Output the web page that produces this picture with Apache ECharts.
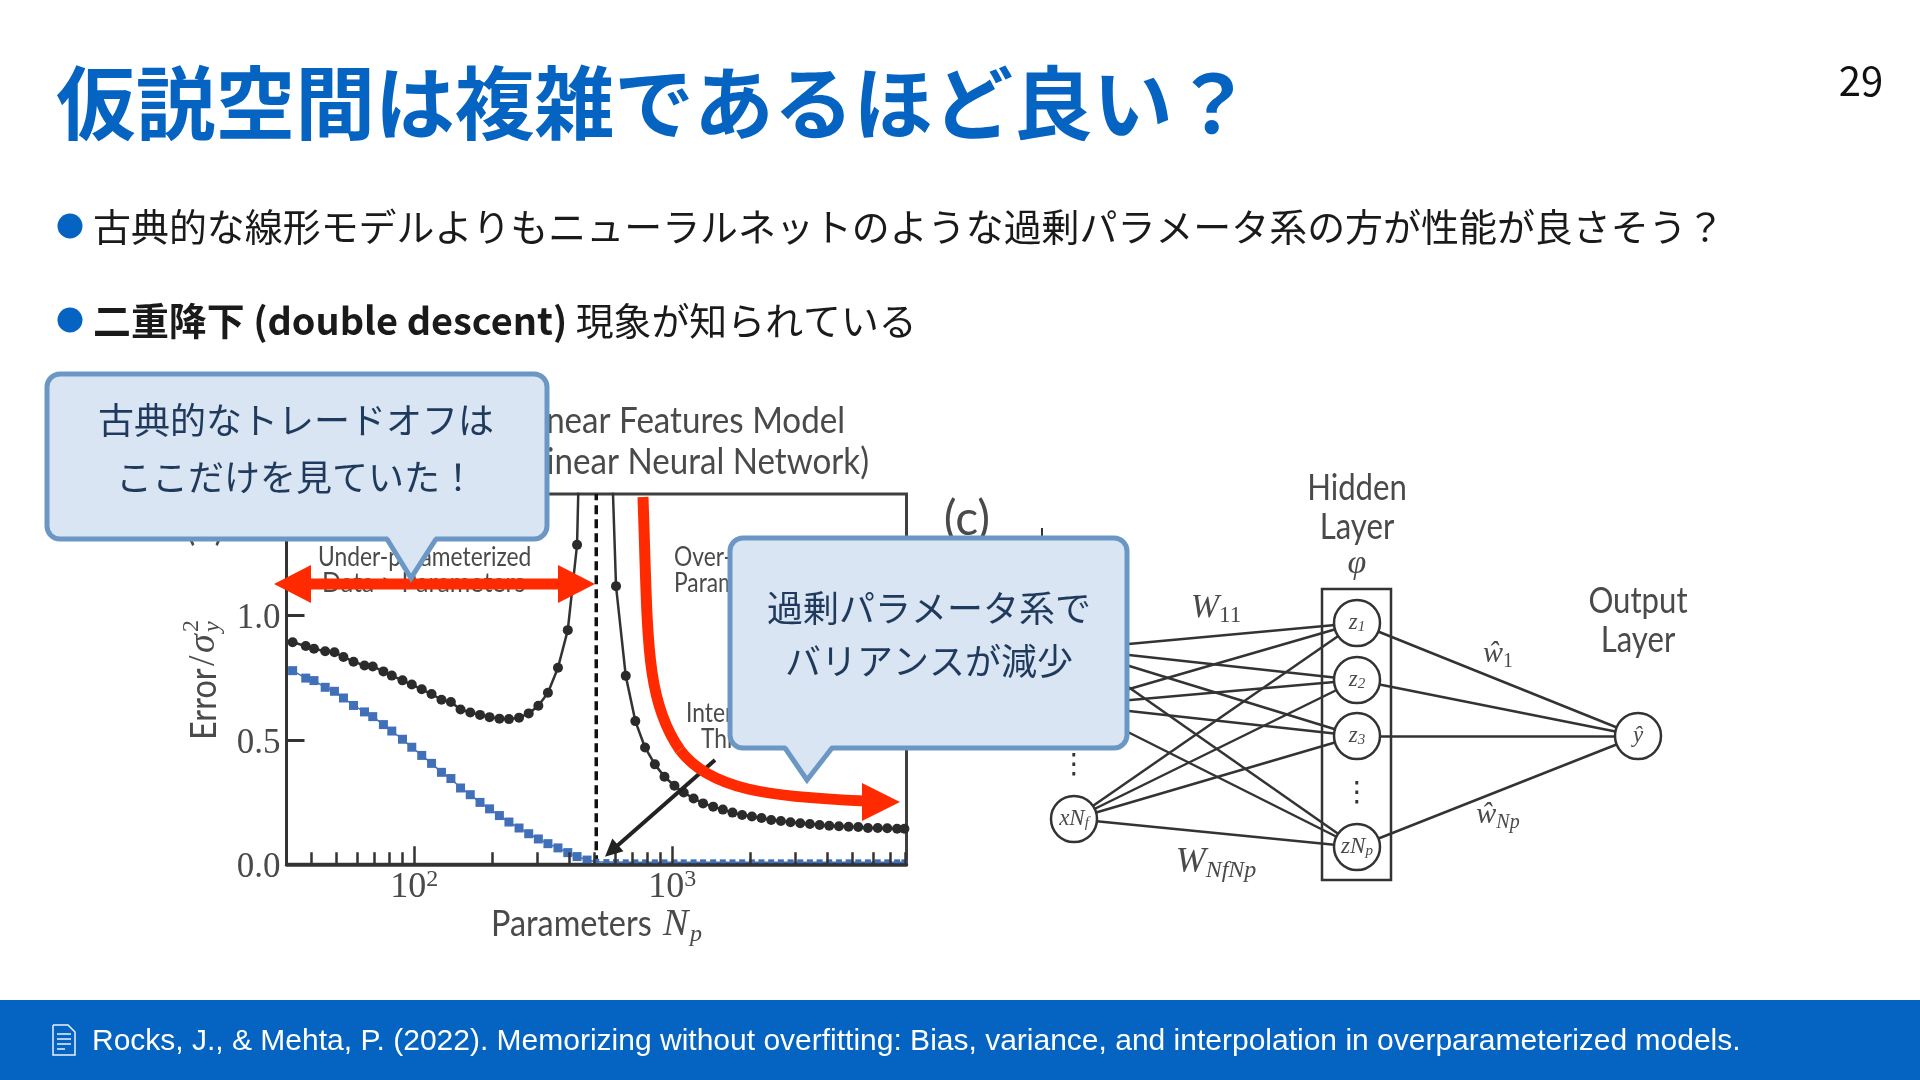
<!DOCTYPE html>
<html>
<head>
<meta charset="utf-8">
<title>double descent</title>
<script src="https://cdn.jsdelivr.net/npm/echarts@6/dist/echarts.min.js"></script>
<style>
html, body { margin: 0; padding: 0; background: #fff; }
#chart { width: 1920px; height: 1080px; }
</style>
</head>
<body>
<div id="chart"></div>
<script>
/* data */
var npValues = [32, 33.8, 38, 40.9, 45.2, 49.1, 53.2, 58.2, 64.2, 69.1, 76, 81.9, 90.1, 97.9, 107, 116.8, 127.6, 138.8, 151.3, 165, 180, 196, 214, 233, 255, 278, 303, 330, 361, 394, 428, 468, 508, 556, 606, 661, 720, 785, 857, 934, 1021, 1109, 1211, 1318, 1442, 1572, 1714, 1868, 2038, 2220, 2421, 2640, 2877, 3138, 3420, 3729, 4064, 4432, 4832, 5267, 5741, 6266, 6823, 7447, 7950];
var testError = [0.9, 0.893, 0.878, 0.867, 0.857, 0.853, 0.834, 0.815, 0.8, 0.796, 0.776, 0.759, 0.74, 0.723, 0.704, 0.685, 0.662, 0.653, 0.623, 0.611, 0.601, 0.592, 0.586, 0.584, 0.59, 0.607, 0.638, 0.69, 0.791, 0.942, 1.285, 3, null, 2.3, 1.119, 0.758, 0.576, 0.47, 0.402, 0.352, 0.316, 0.289, 0.265, 0.245, 0.232, 0.22, 0.208, 0.198, 0.192, 0.186, 0.178, 0.174, 0.169, 0.165, 0.162, 0.158, 0.155, 0.153, 0.151, 0.15, 0.146, 0.146, 0.145, 0.143, 0.143];
var trainError = [0.79, 0.779, 0.749, 0.739, 0.712, 0.696, 0.669, 0.639, 0.613, 0.594, 0.562, 0.536, 0.503, 0.471, 0.438, 0.406, 0.37, 0.345, 0.307, 0.28, 0.249, 0.223, 0.196, 0.17, 0.146, 0.123, 0.102, 0.083, 0.066, 0.047, 0.031, 0.017, 0.01, 0.009, 0.009, 0.008, 0.008, 0.008, 0.008, 0.008, 0.008, 0.008, 0.008, 0.008, 0.008, 0.008, 0.008, 0.008, 0.008, 0.008, 0.008, 0.008, 0.008, 0.008, 0.008, 0.008, 0.008, 0.008, 0.008, 0.008, 0.008, 0.008, 0.008, 0.008, 0.008];
var thresholdNp = 508;
var xMajorTicks = [100, 1000];
var xMinorTicks = [40, 50, 60, 70, 80, 90, 200, 300, 400, 500, 600, 700, 800, 900, 2000, 3000, 4000, 5000, 6000, 7000, 8000];
var yTicks = [0, 0.5, 1];

var inputNodes = ['x1', 'x2', 'xNf'];
var hiddenNodes = ['z1', 'z2', 'z3', 'zNp'];
var outputNodes = ['yhat'];

/* fonts and colours */
var cjk = '"Noto Sans CJK JP"';
var sans = 'Lato';
var serif = '"Liberation Serif"';
var blue = '#0563c1';
var ink = '#4a4a4a';
var red = '#ff2a00';
var calloutFill = '#dae5f4';
var calloutLine = '#6a97c4';
var calloutText = '#1f3a5c';

/* node places on the slide, in page pixels */
var nodePlace = {
	x1: [1074, 649], x2: [1074, 705], xNf: [1074, 819],
	z1: [1357, 623], z2: [1357, 680], z3: [1357, 736], zNp: [1357, 847],
	yhat: [1638, 736]
};
var nodeLabel = {
	x1: '{i|x}{s|1}', x2: '{i|x}{s|2}', xNf: '{i|xN}{s|f}',
	z1: '{i|z}{s|1}', z2: '{i|z}{s|2}', z3: '{i|z}{s|3}', zNp: '{i|zN}{s|p}',
	yhat: '{i|ŷ}'
};

function txt(text, x, y, font, fill, align, extra, sx) {
	var style = { text: text, x: 0, y: 0, font: font, fill: fill, textAlign: align || 'left', textVerticalAlign: 'middle' };
	for (var k in extra) { style[k] = extra[k]; }
	return { type: 'text', x: x, y: y, scaleX: sx || 1, style: style };
}

function seg(x1, y1, x2, y2, color, w) {
	return { type: 'line', shape: { x1: x1, y1: y1, x2: x2, y2: y2 }, style: { stroke: color, lineWidth: w } };
}

function poly(points, fill) {
	return { type: 'polygon', shape: { points: points }, style: { fill: fill } };
}

function curve(a, b, c, d, color, w) {
	return { type: 'bezierCurve', shape: { x1: a[0], y1: a[1], cpx1: b[0], cpy1: b[1], cpx2: c[0], cpy2: c[1], x2: d[0], y2: d[1] }, style: { stroke: color, lineWidth: w, fill: null } };
}

function callout(x, y, w, h, baseL, baseR, tipX, tipY) {
	var bottom = y + h;
	return [
		{ type: 'rect', shape: { x: x, y: y, width: w, height: h, r: 13 }, style: { fill: calloutFill, stroke: calloutLine, lineWidth: 5 } },
		poly([[baseL, bottom - 4], [baseR, bottom - 4], [tipX, tipY]], calloutFill),
		{ type: 'polyline', shape: { points: [[baseL, bottom], [tipX, tipY], [baseR, bottom]] }, style: { stroke: calloutLine, lineWidth: 5, fill: null } }
	];
}

var edges = [];
inputNodes.forEach(function (a) {
	hiddenNodes.forEach(function (b) { edges.push({ source: a, target: b }); });
});
hiddenNodes.forEach(function (a) {
	outputNodes.forEach(function (b) { edges.push({ source: a, target: b }); });
});

var nodes = inputNodes.concat(hiddenNodes, outputNodes).map(function (name) {
	return { name: name, value: nodePlace[name], label: { formatter: nodeLabel[name] } };
});

/* slide text, callouts and arrows */
var elements = [
	txt('仮説空間は複雑であるほど良い？', 56, 103, '700 80px ' + cjk, blue, 'left', null, 0.997),
	txt('29', 1861, 81, '400 40px ' + cjk, '#111', 'center'),
	{ type: 'circle', shape: { cx: 70, cy: 226, r: 12.5 }, style: { fill: blue } },
	txt('古典的な線形モデルよりもニューラルネットのような過剰パラメータ系の方が性能が良さそう？', 93, 227, '400 38px ' + cjk, '#1a1a1a', 'left', null, 0.9985),
	{ type: 'circle', shape: { cx: 70, cy: 320, r: 12.5 }, style: { fill: blue } },
	txt('{b|二重降下 (double descent)}{r| 現象が知られている}', 93, 321, '400 38px ' + cjk, '#1a1a1a', 'left', {
		rich: {
			b: { font: '700 38px ' + cjk, fill: '#1a1a1a' },
			r: { font: '400 38px ' + cjk, fill: '#1a1a1a' }
		}
	}, 0.997),

	/* plot titles and annotations */
	txt('Nonlinear Features Model', 845, 421, '400 36px ' + sans, ink, 'right', null, 0.92),
	txt('(Nonlinear Neural Network)', 869, 462, '400 36px ' + sans, ink, 'right', null, 0.92),
	txt('(b)', 205, 527, '400 40px ' + sans, ink, 'center', null, 0.9),
	txt('(c)', 967, 520, '400 48px ' + sans, ink, 'center', null, 1),
	txt('Under-parameterized', 318, 558, '400 26px ' + sans, ink, 'left', null, 0.877),
	txt('Data > Parameters', 322, 584, '400 26px ' + sans, ink, 'left', null, 0.96),
	txt('Over-', 674, 558, '400 26px ' + sans, ink, 'left', null, 0.877),
	txt('Parameterized', 674, 584, '400 26px ' + sans, ink, 'left', null, 0.877),
	txt('Interpolation', 686, 714, '400 26px ' + sans, ink, 'left', null, 0.877),
	txt('Threshold', 701, 740, '400 26px ' + sans, ink, 'left', null, 0.877),
	{
		type: 'group', x: 204, y: 740, rotation: Math.PI / 2,
		children: [
			txt('Error', 0, 0, '400 37px ' + sans, ink, 'left', null, 0.88),
			txt('/', 74, 0, '400 38px ' + serif, ink),
			txt('σ', 87, 0, 'italic 400 38px ' + serif, ink),
			txt('y', 108, 9, 'italic 400 24px ' + serif, ink),
			txt('2', 108, -12, '400 24px ' + serif, ink)
		]
	},
	{
		type: 'group', x: 491, y: 924,
		children: [
			txt('Parameters', 0, 0, '400 36px ' + sans, ink, 'left', null, 0.9),
			txt('N', 172, 1, 'italic 400 38px ' + serif, ink),
			txt('p', 199, 11, 'italic 400 24px ' + serif, ink)
		]
	},

	/* black arrow to the threshold */
	seg(715, 760, 617, 846, '#222', 4),
	poly([[605, 856.7], [623.5, 851.2], [612.3, 838.6]], '#222'),

	/* red arrows */
	seg(305, 584, 565, 584, red, 11),
	poly([[274, 584], [311, 565], [311, 603]], red),
	poly([[595, 584], [558, 565], [558, 603]], red),
	curve([643, 497], [648, 640], [645, 700], [680, 750], red, 11),
	curve([680, 750], [710, 790], [770, 797], [865, 801], red, 11),
	poly([[900, 802], [862, 783], [862, 821]], red)
];

/* network labels */
elements = elements.concat([
	seg(1042, 528, 1042, 537, '#333', 2),
	{ type: 'rect', shape: { x: 1322, y: 589, width: 69, height: 291 }, style: { fill: null, stroke: '#333', lineWidth: 2.5 } },
	txt('Hidden', 1357, 488, '400 36px ' + sans, ink, 'center', null, 0.865),
	txt('Layer', 1357, 527, '400 36px ' + sans, ink, 'center', null, 0.865),
	txt('φ', 1357, 564, 'italic 400 34px ' + serif, ink, 'center'),
	txt('Output', 1638, 601, '400 36px ' + sans, ink, 'center', null, 0.865),
	txt('Layer', 1638, 640, '400 36px ' + sans, ink, 'center', null, 0.865),
	txt('⋮', 1074, 766, '400 28px "DejaVu Sans"', '#333', 'center'),
	txt('⋮', 1357, 794, '400 28px "DejaVu Sans"', '#333', 'center'),
	txt('{i|W}{s|11}', 1216, 608, '400 30px ' + serif, ink, 'center', {
		rich: { i: { font: 'italic 400 34px ' + serif, fill: ink, lineHeight: 38 }, s: { font: '400 23px ' + serif, fill: ink, lineHeight: 20, verticalAlign: 'bottom' } }
	}),
	txt('{i|W}{s|NfNp}', 1216, 863, '400 30px ' + serif, ink, 'center', {
		rich: { i: { font: 'italic 400 36px ' + serif, fill: ink, lineHeight: 40 }, s: { font: 'italic 400 24px ' + serif, fill: ink, lineHeight: 20, verticalAlign: 'bottom' } }
	}),
	txt('{i|ŵ}{s|1}', 1498, 654, '400 30px ' + serif, ink, 'center', {
		rich: { i: { font: 'italic 400 30px ' + serif, fill: ink, lineHeight: 36 }, s: { font: '400 20px ' + serif, fill: ink, lineHeight: 20, verticalAlign: 'bottom' } }
	}),
	txt('{i|ŵ}{s|Np}', 1498, 815, '400 30px ' + serif, ink, 'center', {
		rich: { i: { font: 'italic 400 30px ' + serif, fill: ink, lineHeight: 36 }, s: { font: 'italic 400 20px ' + serif, fill: ink, lineHeight: 20, verticalAlign: 'bottom' } }
	})
]);

/* callouts */
elements = elements.concat(callout(47, 374, 500, 165, 387, 436, 411, 578));
elements.push(txt('古典的なトレードオフは', 296, 420, '400 36px ' + cjk, calloutText, 'center'));
elements.push(txt('ここだけを見ていた！', 296, 477, '400 36px ' + cjk, calloutText, 'center'));
elements = elements.concat(callout(730, 538, 397, 210, 785, 832, 807, 780));
elements.push(txt('過剰パラメータ系で', 929, 608, '400 36px ' + cjk, calloutText, 'center'));
elements.push(txt('バリアンスが減少', 929, 661, '400 36px ' + cjk, calloutText, 'center'));

/* footer band */
elements = elements.concat([
	{ type: 'rect', shape: { x: 0, y: 1000, width: 1920, height: 80 }, style: { fill: blue } },
	{ type: 'polyline', shape: { points: [[53, 1025], [68, 1025], [75, 1032], [75, 1055], [53, 1055], [53, 1025]] }, style: { stroke: '#eaf2fb', lineWidth: 1.5, fill: null } },
	seg(57, 1034, 71, 1034, '#eaf2fb', 1.5),
	seg(57, 1039, 71, 1039, '#eaf2fb', 1.5),
	seg(57, 1044, 71, 1044, '#eaf2fb', 1.5),
	seg(57, 1049, 65, 1049, '#eaf2fb', 1.5),
	txt('Rocks, J., & Mehta, P. (2022). Memorizing without overfitting: Bias, variance, and interpolation in overparameterized models.', 92, 1042, '400 30px "Liberation Sans"', '#fff')
]);

/* everything on the slide sits over the plots */
function lift(el) {
	el.z = 100;
	if (el.children) { el.children.forEach(lift); }
}
elements.forEach(lift);

/* the first sample sits on the axis and only carries the line */
function curvePoints(values) {
	return npValues.map(function (n, i) {
		return i === 0 ? { value: [n, values[i]], symbol: 'none' } : [n, values[i]];
	});
}

var chart = echarts.init(document.getElementById('chart'), null, { renderer: 'canvas' });

var option = {
	animation: false,
	backgroundColor: '#fff',
	grid: [
		{ left: 286.5, top: 493.9, width: 620, height: 370.4, show: true, borderColor: '#3f3f3f', borderWidth: 3, backgroundColor: 'transparent' },
		{ left: 0, top: 0, width: 1920, height: 1080, show: false }
	],
	xAxis: [
		{
			type: 'log', logBase: 10, min: 32, max: 8100, gridIndex: 0, position: 'bottom', z: 5,
			splitLine: { show: false },
			minorTick: { show: false },
			minorSplitLine: { show: false },
			axisLine: { lineStyle: { color: '#333', width: 3.5 } },
			axisTick: { inside: true, length: 18, customValues: xMajorTicks, lineStyle: { color: '#333', width: 2.5 } },
			axisLabel: {
				customValues: xMajorTicks,
				margin: 3,
				fontFamily: serif,
				fontSize: 36,
				color: ink,
				lineHeight: 40,
				formatter: function (v) { return '10{sup|' + Math.round(Math.log10(v)) + '}'; },
				rich: { sup: { fontFamily: serif, fontSize: 24, color: ink, lineHeight: 22, verticalAlign: 'top' } }
			}
		},
		{
			type: 'log', logBase: 10, min: 32, max: 8100, gridIndex: 0, position: 'bottom', z: 5,
			splitLine: { show: false },
			minorTick: { show: false },
			axisLine: { show: false },
			axisTick: { inside: true, length: 12, customValues: xMinorTicks, lineStyle: { color: '#333', width: 2.5 } },
			axisLabel: { show: false }
		},
		{ type: 'value', gridIndex: 1, min: 0, max: 1920, show: false }
	],
	yAxis: [
		{
			type: 'value', min: 0, max: 1.49, gridIndex: 0, z: 5,
			splitLine: { show: false },
			axisLine: { show: true, onZero: false, lineStyle: { color: '#333', width: 3 } },
			axisTick: { show: true, inside: true, length: 18, customValues: yTicks, lineStyle: { color: '#333', width: 3 } },
			axisLabel: {
				customValues: yTicks,
				margin: 6,
				fontFamily: serif,
				fontSize: 35,
				color: ink,
				padding: [7, 0, 0, 0],
				formatter: function (v) { return '{v|' + v.toFixed(1) + '}'; },
				rich: { v: { fontFamily: serif, fontSize: 35, color: ink } }
			}
		},
		{ type: 'value', gridIndex: 1, min: 0, max: 1080, inverse: true, show: false }
	],
	series: [
		{
			name: 'threshold', type: 'line', xAxisIndex: 0, yAxisIndex: 0, z: 2,
			data: [[thresholdNp, 0], [thresholdNp, 1.49]],
			symbol: 'none',
			lineStyle: { color: '#111', width: 3.5, type: [9, 5] }
		},
		{
			name: 'test', type: 'line', xAxisIndex: 0, yAxisIndex: 0, z: 3, clip: true,
			data: curvePoints(testError),
			symbol: 'circle', symbolSize: 10,
			itemStyle: { color: '#2b2b2b' },
			lineStyle: { color: '#333', width: 2.5 }
		},
		{
			name: 'train', type: 'line', xAxisIndex: 0, yAxisIndex: 0, z: 4, clip: true,
			data: curvePoints(trainError),
			symbol: 'rect',
			symbolSize: function (val) { return val[1] < 0.012 ? 6 : 9; },
			itemStyle: { color: '#4170b8' },
			lineStyle: { color: '#4170b8', width: 1.5 }
		},
		{
			name: 'network', type: 'graph', coordinateSystem: 'cartesian2d', xAxisIndex: 2, yAxisIndex: 1, z: 2,
			data: nodes,
			links: edges,
			symbol: 'circle', symbolSize: 46,
			itemStyle: { color: '#fff', borderColor: '#333', borderWidth: 2.5 },
			lineStyle: { color: '#333', width: 2.5, opacity: 1, curveness: 0 },
			label: {
				show: true, position: 'inside',
				rich: {
					i: { fontFamily: serif, fontStyle: 'italic', fontSize: 23, color: ink, lineHeight: 24 },
					s: { fontFamily: serif, fontStyle: 'italic', fontSize: 15, color: ink, lineHeight: 14, verticalAlign: 'bottom' }
				}
			},
			emphasis: { disabled: true }
		}
	],
	graphic: { elements: elements }
};
chart.setOption(option);
</script>
</body>
</html>
